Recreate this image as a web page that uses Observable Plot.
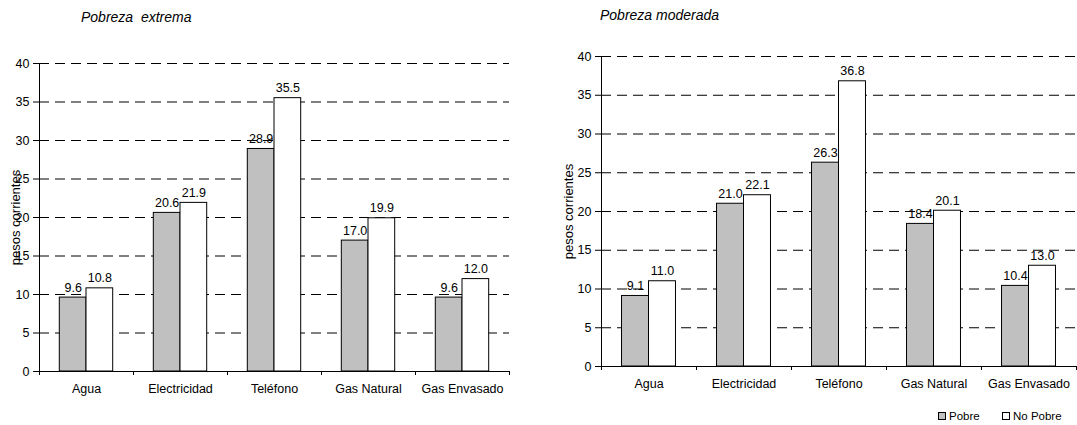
<!DOCTYPE html>
<html>
<head>
<meta charset="utf-8">
<script src="https://cdn.jsdelivr.net/npm/d3@7"></script>
<script src="https://cdn.jsdelivr.net/npm/@observablehq/plot@0.6"></script>
<style>
  body { margin: 0; background: #fff; font-family: "Liberation Sans", Arial, sans-serif; }
  #page { position: relative; width: 1077px; height: 425px; overflow: hidden; }
  .panel { position: absolute; }
  .titulo { position: absolute; font-style: italic; font-size: 14px; white-space: pre; color: #000; }
  .leyenda { position: absolute; font-size: 11.5px; color: #000; display: flex; align-items: center; }
  .leyenda .sw { display: inline-block; width: 6px; height: 6px; border: 1px solid #000; margin-right: 3px; }
</style>
</head>
<body>
<div id="page">
  <div class="titulo" style="left:81px; top:9px;">Pobreza  extrema</div>
  <div class="titulo" style="left:600px; top:7px;">Pobreza moderada</div>
  <div id="extrema" class="panel" style="left:0px; top:40px;"></div>
  <div id="moderada" class="panel" style="left:540px; top:30px;"></div>
  <div class="leyenda" style="left:938px; top:410px;"><span class="sw" style="background:#c0c0c0"></span>Pobre</div>
  <div class="leyenda" style="left:1002px; top:410px;"><span class="sw" style="background:#fff"></span>No Pobre</div>
</div>
<script>
// Gasto mensual en servicios (pesos corrientes), hogares pobres y no pobres
const categorias = ["Agua", "Electricidad", "Teléfono", "Gas Natural", "Gas Envasado"];
const series = ["Pobre", "No Pobre"];
const colores = ["#c0c0c0", "#ffffff"];

const extremaPobre = [9.6, 20.6, 28.9, 17.0, 9.6];
const extremaNoPobre = [10.8, 21.9, 35.5, 19.9, 12.0];

const moderadaPobre = [9.1, 21.0, 26.3, 18.4, 10.4];
const moderadaNoPobre = [11.0, 22.1, 36.8, 20.1, 13.0];

const yTicks = [0, 5, 10, 15, 20, 25, 30, 35, 40];
const yTitulo = "pesos corrientes";

const fmt = d3.format(".1f");

function panel({pobre, noPobre, width, height, marginTop, marginBottom, marginLeft, marginRight, labelDx}) {
  const bw = (width - marginLeft - marginRight) / categorias.length; // ancho de cada categoría
  const barW = bw * 0.284;
  const gap = (bw - 2 * barW) / 2;

  const filas = categorias.map((c, i) => ({categoria: c, pobre: pobre[i], noPobre: noPobre[i]}));

  return Plot.plot({
    width, height, marginTop, marginBottom, marginLeft, marginRight,
    style: {fontFamily: "'Liberation Sans', Arial, sans-serif", fontSize: "12.5px", color: "#000", background: "transparent", overflow: "visible"},
    x: {domain: categorias, padding: 0},
    y: {domain: [0, 40]},
    marks: [
      // líneas de referencia discontinuas
      Plot.ruleY(yTicks.filter(v => v > 0), {stroke: "#000", strokeWidth: 1, strokeDasharray: "10,6"}),
      // barras: hogares pobres y no pobres
      Plot.barY(filas, {x: "categoria", y: "pobre", fill: colores[0], stroke: "#000", strokeWidth: 1,
        insetLeft: gap, insetRight: bw - gap - barW}),
      Plot.barY(filas, {x: "categoria", y: "noPobre", fill: colores[1], stroke: "#000", strokeWidth: 1,
        insetLeft: gap + barW, insetRight: gap}),
      // etiquetas de valor
      Plot.text(filas, {x: "categoria", y: "pobre", text: d => fmt(d.pobre), dx: -barW / 2, dy: -6, lineAnchor: "bottom", fontSize: 12.5}),
      Plot.text(filas, {x: "categoria", y: "noPobre", text: d => fmt(d.noPobre), dx: barW / 2, dy: -6, lineAnchor: "bottom", fontSize: 12.5}),
      // ejes
      Plot.ruleY([0], {stroke: "#000"}),
      Plot.ruleX([categorias[0]], {dx: -bw / 2, y1: 0, y2: 40, stroke: "#000"}),
      Plot.ruleX(categorias, {dx: -bw / 2, y1: 0, y2: 0, insetBottom: -4, stroke: "#000"}),
      Plot.ruleX([categorias[categorias.length - 1]], {dx: bw / 2, y1: 0, y2: 0, insetBottom: -4, stroke: "#000"}),
      Plot.axisY({ticks: yTicks, tickSize: 6, tickPadding: 4, label: null, fontSize: 12.5}),
      Plot.axisX({tickSize: 0, tickPadding: 13, label: null, fontSize: 12.5}),
      Plot.text([yTitulo], {frameAnchor: "left", textAnchor: "middle", dx: labelDx, rotate: -90, fontSize: 13})
    ]
  });
}

document.getElementById("extrema").append(panel({
  pobre: extremaPobre, noPobre: extremaNoPobre,
  width: 530, height: 370, marginTop: 23, marginBottom: 39, marginLeft: 39, marginRight: 21, labelDx: -24
}));

document.getElementById("moderada").append(panel({
  pobre: moderadaPobre, noPobre: moderadaNoPobre,
  width: 537, height: 380, marginTop: 26, marginBottom: 44, marginLeft: 61, marginRight: 1, labelDx: -33
}));
</script>
</body>
</html>
